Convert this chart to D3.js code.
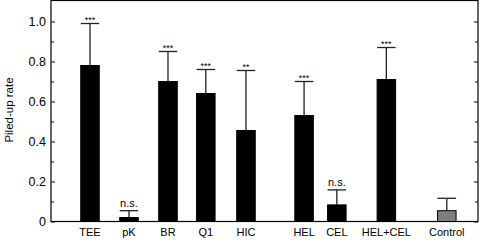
<!DOCTYPE html>
<html><head><meta charset="utf-8">
<script src="https://cdn.jsdelivr.net/npm/d3@7"></script>
<style>
html,body{margin:0;padding:0;background:#fff;}
svg{display:block;font-family:"Liberation Sans",Arial,Helvetica,sans-serif;}
</style></head>
<body>
<svg id="chart" width="481" height="240"></svg>
<script>
// ---- data ----
const categories = ["TEE","pK","BR","Q1","HIC","HEL","CEL","HEL+CEL","Control"];
const means      = [0.78, 0.02, 0.70, 0.64, 0.455, 0.53, 0.083, 0.71, 0.054];
const errors     = [0.21, 0.034, 0.15, 0.12, 0.30, 0.17, 0.075, 0.16, 0.062];
const significance = ["***","n.s.","***","***","**","***","n.s.","***",""];
const yTicks     = [0, 0.2, 0.4, 0.6, 0.8, 1.0];
const yMinorTicks = [0.1, 0.3, 0.5, 0.7, 0.9, 1.1];

// ---- layout ----
const slots = [1, 2, 3, 3.97, 5, 6.49, 7.33, 8.6, 10.15];
const mLeft = 51, mRight = 478, mTop = 0.5, mBottom = 221.5;
const svg = d3.select("#chart");

const x = d3.scaleLinear().domain([0, 10.95]).range([mLeft, mRight]);
const y = d3.scaleLinear().domain([0, 1.1]).range([mBottom, mBottom - 220]);
const bw = x(0.475) - x(0);

// frame
svg.append("rect").attr("x", mLeft).attr("y", mTop).attr("width", mRight - mLeft).attr("height", mBottom - mTop)
  .attr("fill", "none").attr("stroke", "#000").attr("stroke-width", 1.2);

// ticks (inward) on left and right
const minorShown = yMinorTicks.filter(v => y(v) > mTop + 2);
const gL = svg.append("g").attr("transform", `translate(${mLeft},0)`)
  .call(d3.axisRight(y).tickValues(yTicks).tickSize(4).tickFormat(""));
const gLm = svg.append("g").attr("transform", `translate(${mLeft},0)`)
  .call(d3.axisRight(y).tickValues(minorShown).tickSize(3).tickFormat(""));
const gR = svg.append("g").attr("transform", `translate(${mRight},0)`)
  .call(d3.axisLeft(y).tickValues(yTicks).tickSize(4).tickFormat(""));
const gRm = svg.append("g").attr("transform", `translate(${mRight},0)`)
  .call(d3.axisLeft(y).tickValues(minorShown).tickSize(3).tickFormat(""));
[gL, gLm, gR, gRm].forEach(g => { g.select(".domain").remove(); g.selectAll("line").attr("stroke", "#000").attr("stroke-width", 1); });

// tick labels
svg.append("g").selectAll("text").data(yTicks).join("text")
  .attr("x", mLeft - 5).attr("y", d => y(d)).attr("dy", "0.36em")
  .attr("text-anchor", "end").attr("font-size", 12.5).attr("fill", "#000")
  .text(d => d === 0 ? "0" : d3.format(".1f")(d));

// y axis title
svg.append("text").attr("transform", "translate(13,110) rotate(-90)")
  .attr("text-anchor", "middle").attr("font-size", 11.5).attr("fill", "#000").text("Piled-up rate");

// bars
const data = categories.map((c, i) => ({c, m: means[i], e: errors[i], s: significance[i], p: slots[i]}));
svg.append("g").selectAll("rect").data(data).join("rect")
  .attr("x", d => x(d.p) - bw / 2).attr("y", d => y(d.m))
  .attr("width", bw).attr("height", d => y(0) - y(d.m))
  .attr("fill", d => d.c === "Control" ? "#7f7f7f" : "#000")
  .attr("stroke", "#000").attr("stroke-width", 1);

// error bars
const eg = svg.append("g").attr("stroke", "#222").attr("stroke-width", 1.3);
eg.selectAll("line.v").data(data).join("line").attr("class", "v")
  .attr("x1", d => x(d.p)).attr("x2", d => x(d.p))
  .attr("y1", d => y(d.m)).attr("y2", d => y(d.m + d.e));
eg.selectAll("line.c").data(data).join("line").attr("class", "c")
  .attr("x1", d => x(d.p) - bw / 2).attr("x2", d => x(d.p) + bw / 2)
  .attr("y1", d => y(d.m + d.e)).attr("y2", d => y(d.m + d.e));

// significance labels
svg.append("g").selectAll("text").data(data.filter(d => d.s)).join("text")
  .attr("x", d => x(d.p)).attr("y", d => y(d.m + d.e) - (d.s === "n.s." ? 4 : 0.5))
  .attr("text-anchor", "middle").attr("font-size", d => d.s === "n.s." ? 11 : 9)
  .attr("fill", "#000").text(d => d.s);

// category labels
svg.append("g").selectAll("text").data(data).join("text")
  .attr("x", d => x(d.p)).attr("y", 235.5)
  .attr("text-anchor", "middle").attr("font-size", 11).attr("fill", "#000")
  .text(d => d.c);
</script>
</body></html>
